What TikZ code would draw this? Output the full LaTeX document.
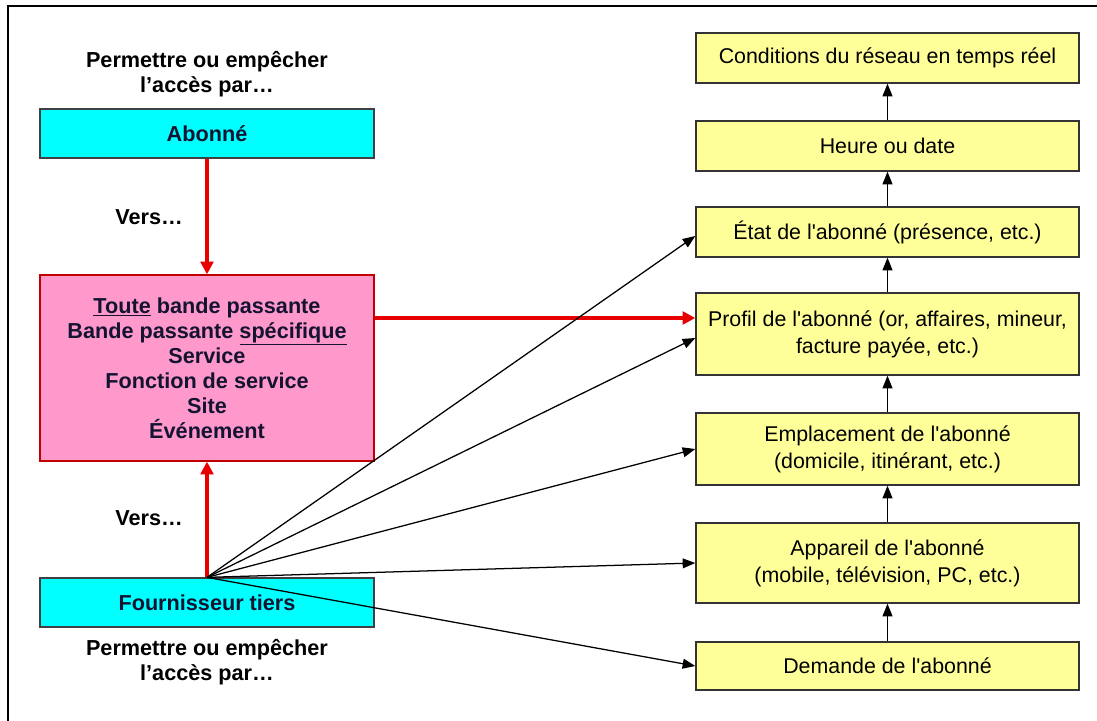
\documentclass[tikz,border=0pt]{standalone}
\usepackage{fontspec}
\setmainfont{Liberation Sans}
\usetikzlibrary{arrows.meta,calc}
\definecolor{boxcyan}{RGB}{0,255,255}
\definecolor{boxpink}{RGB}{255,153,204}
\definecolor{boxyellow}{RGB}{255,255,153}
\definecolor{arrowred}{RGB}{232,0,0}
\definecolor{darktext}{RGB}{20,20,50}
\newcommand\apos{\textquotesingle}
\tikzset{ %styles of the boxes and arrows
  leftbox/.style={draw=black!75,line width=0.9pt,fill=boxcyan,
    minimum width=8.35cm,minimum height=1.225cm,inner sep=1pt,
    font=\bfseries\fontsize{15.4}{17.8}\selectfont,text=darktext},
  pinkbox/.style={leftbox,fill=boxpink,draw=red!75!black,
    minimum height=4.65cm,align=center},
  rightbox/.style={draw=black!80,line width=0.9pt,fill=boxyellow,
    minimum width=9.575cm,inner sep=1pt,align=center,
    font=\fontsize{15.2}{19.2}\selectfont},
  note/.style={font=\bfseries\fontsize{15.4}{17.8}\selectfont,align=center},
  redarrow/.style={draw=arrowred,line width=2.2pt,-{Triangle[length=9pt,width=9pt]}},
  blackarrow/.style={line width=0.9pt,-{Triangle[length=9pt,width=7pt]}}
}
\begin{document}
\begin{tikzpicture}[x=0.025cm,y=-0.025cm] % one unit = one pixel
\useasboundingbox (0,0) rectangle (1097,721);
\draw[line width=1pt] (8,721) -- (8,6) -- (1097,6);

% left column
\node[note] (topnote) at (207,74) {Permettre ou empêcher\\l’accès par\dots};
\node[leftbox] (abonne) at (207,133.5) {Abonné};
\node[pinkbox] (acces) at (207,368) {\underline{Toute} bande passante\\
  Bande passante \underline{spécifique}\\Service\\Fonction de service\\Site\\Événement};
\node[leftbox] (tiers) at (207,602.5) {Fournisseur tiers};
\node[note] (botnote) at (207,662) {Permettre ou empêcher\\l’accès par\dots};
\node[note] (vershaut) at (149,217) {Vers\dots};
\node[note] (versbas) at (149,518) {Vers\dots};

% right column
\node[rightbox,minimum height=1.25cm] (reseau) at (887.5,58) {Conditions du réseau en temps réel};
\node[rightbox,minimum height=1.25cm] (heure) at (887.5,146) {Heure ou date};
\node[rightbox,minimum height=1.25cm] (etat) at (887.5,232) {État de l\apos abonné (présence, etc.)};
\node[rightbox,minimum height=2.05cm] (profil) at (887.5,334) {Profil de l\apos abonné (or, affaires, mineur,\\facture payée, etc.)};
\node[rightbox,minimum height=1.8cm] (lieu) at (887.5,449) {Emplacement de l\apos abonné\\(domicile, itinérant, etc.)};
\node[rightbox,minimum height=2cm] (appareil) at (887.5,563) {Appareil de l\apos abonné\\(mobile, télévision, PC, etc.)};
\node[rightbox,minimum height=1.2cm] (demande) at (887.5,666) {Demande de l\apos abonné};

% chain on the right
\foreach \a/\b in {demande/appareil,appareil/lieu,lieu/profil,profil/etat,etat/heure,heure/reseau}
  \draw[blackarrow] (\a.north) -- (\b.south);

% red arrows
\draw[redarrow] (abonne.south) -- (acces.north);
\draw[redarrow] (tiers.north) -- (acces.south);
\coordinate (profilin) at ($(profil.west)+(0,-16)$);
\draw[redarrow] (acces.east |- profilin) -- (profilin);

% fan from the third party
\draw[blackarrow] (tiers.north) -- ($(etat.west)+(0,4)$);
\draw[blackarrow] (tiers.north) -- ($(profil.west)+(0,4)$);
\draw[blackarrow] (tiers.north) -- (lieu.west);
\draw[blackarrow] (tiers.north) -- (appareil.west);
\draw[blackarrow] (tiers.north) -- (demande.west);
\end{tikzpicture}
\end{document}
